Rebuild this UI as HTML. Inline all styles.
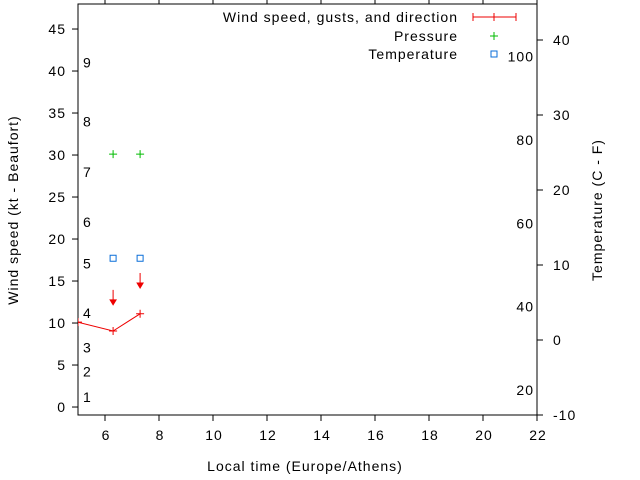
<!DOCTYPE html>
<html><head><meta charset="utf-8"><style>
body{margin:0;background:#fff}
svg{display:block;font-family:"Liberation Sans",sans-serif;font-size:14px;letter-spacing:1px}
</style></head><body>
<svg id="c" width="640" height="480">
<defs><clipPath id="clip"><rect x="78" y="4" width="459" height="411"/></clipPath></defs>
<g id="axes"></g>
<g id="plot" clip-path="url(#clip)"></g>
<g id="legend">
<text x="458" y="22" text-anchor="end">Wind speed, gusts, and direction</text>
<line x1="473" y1="17" x2="516" y2="17" stroke="#e00"/>
<line x1="473" y1="13" x2="473" y2="21" stroke="#e00"/><line x1="516" y1="13" x2="516" y2="21" stroke="#e00"/><line x1="494" y1="13" x2="494" y2="21" stroke="#e00"/>
<text x="458" y="41" text-anchor="end">Pressure</text>
<path d="M490 36h8M494 32v8" stroke="#0b0"/>
<text x="458" y="59" text-anchor="end">Temperature</text>
<rect x="491" y="51" width="6" height="6" fill="none" stroke="#0a6ed8"/>
</g>
<text x="305" y="471" text-anchor="middle">Local time (Europe/Athens)</text>
<text transform="translate(18,210) rotate(-90)" text-anchor="middle">Wind speed (kt - Beaufort)</text>
<text transform="translate(602,210) rotate(-90)" text-anchor="middle">Temperature (C - F)</text>
</svg>
<script>
const xTicks=[6,8,10,12,14,16,18,20,22];
const yTicks=[0,5,10,15,20,25,30,35,40,45];
const y2Ticks=[-10,0,10,20,30,40];
const fTicks=[20,40,60,80,100];
const beaufortLabels=[1,2,3,4,5,6,7,8,9];
const beaufortKt=[1.2,4.2,7.1,11.2,17.1,22,28,34,41];
const windTimes=[5.0,6.3,7.3];
const windSpeeds=[10.1,9.05,11.1];
const gustTimes=[6.3,7.3];
const gustSpeeds=[13,15];
const pressureTimes=[6.3,7.3];
const pressureVals=[30.1,30.1];
const tempTimes=[6.3,7.3];
const tempVals=[10.9,10.9];

const L=78,R=537,T=4,B=415;
const X=v=>L+(v-5)*(R-L)/17;
const Y=v=>B-(v+0.95)*8.4;
const Y2=v=>B-(v+10)*7.5;
const NS='http://www.w3.org/2000/svg';
const ax=document.getElementById('axes'),pl=document.getElementById('plot');
function mk(tag,attrs,parent,txt){const e=document.createElementNS(NS,tag);for(const k in attrs)e.setAttribute(k,attrs[k]);if(txt!==undefined)e.textContent=txt;parent.appendChild(e);return e;}
let e=mk('rect',{x:L,y:T,width:R-L,height:B-T,fill:'none',stroke:'#000'},ax);


xTicks.forEach(v=>{const x=X(v);
 mk('line',{x1:x,y1:B,x2:x,y2:B+6,stroke:'#000'},ax);
 mk('line',{x1:x,y1:T,x2:x,y2:T-6,stroke:'#000'},ax);
 const t=mk('text',{x:x+1,y:B+25,'text-anchor':'middle'},ax,v);
 
 });
yTicks.forEach(v=>{const y=Y(v);
 mk('line',{x1:L-6,y1:y,x2:L,y2:y,stroke:'#000'},ax);
 const t=mk('text',{x:L-12,y:y+5,'text-anchor':'end'},ax,v);
 
 });
y2Ticks.forEach(v=>{const y=Y2(v);
 mk('line',{x1:R,y1:y,x2:R+6,y2:y,stroke:'#000'},ax);
 const t=mk('text',{x:R+16,y:y+5},ax,v);
 
 });
fTicks.forEach(v=>{const y=Y2((v-32)*5/9);
 const t=mk('text',{x:R-3,y:y+5,'text-anchor':'end'},ax,v);
 
 });
beaufortLabels.forEach((b,i)=>{const t=mk('text',{x:83,y:Y(beaufortKt[i])+5},ax,b);
 
 });
const wl=mk('polyline',{points:windTimes.map((t,i)=>X(t)+','+Y(windSpeeds[i])).join(' '),fill:'none',stroke:'#e00'},pl);


windTimes.forEach((t,i)=>{const x=X(t),y=Y(windSpeeds[i]);
 const p=mk('path',{d:`M${x-4} ${y}h8M${x} ${y-4}v8`,stroke:'#e00'},pl);
 
 });
gustTimes.forEach((t,i)=>{const x=X(t),y=Y(gustSpeeds[i]);
 const g=mk('path',{d:`M${x} ${y-8}v13M${x-3} ${y+2}L${x} ${y+7}L${x+3} ${y+2}Z`,stroke:'#e00',fill:'#e00'},pl);
 
 });
pressureTimes.forEach((t,i)=>{const x=X(t),y=Y(pressureVals[i]);
 const p=mk('path',{d:`M${x-4} ${y}h8M${x} ${y-4}v8`,stroke:'#0b0'},pl);
 
 });
tempTimes.forEach((t,i)=>{const x=X(t),y=Y2(tempVals[i]);
 const r=mk('rect',{x:x-3,y:y-3,width:6,height:6,fill:'none',stroke:'#0a6ed8'},pl);
 
 });
</script>
</body></html>
